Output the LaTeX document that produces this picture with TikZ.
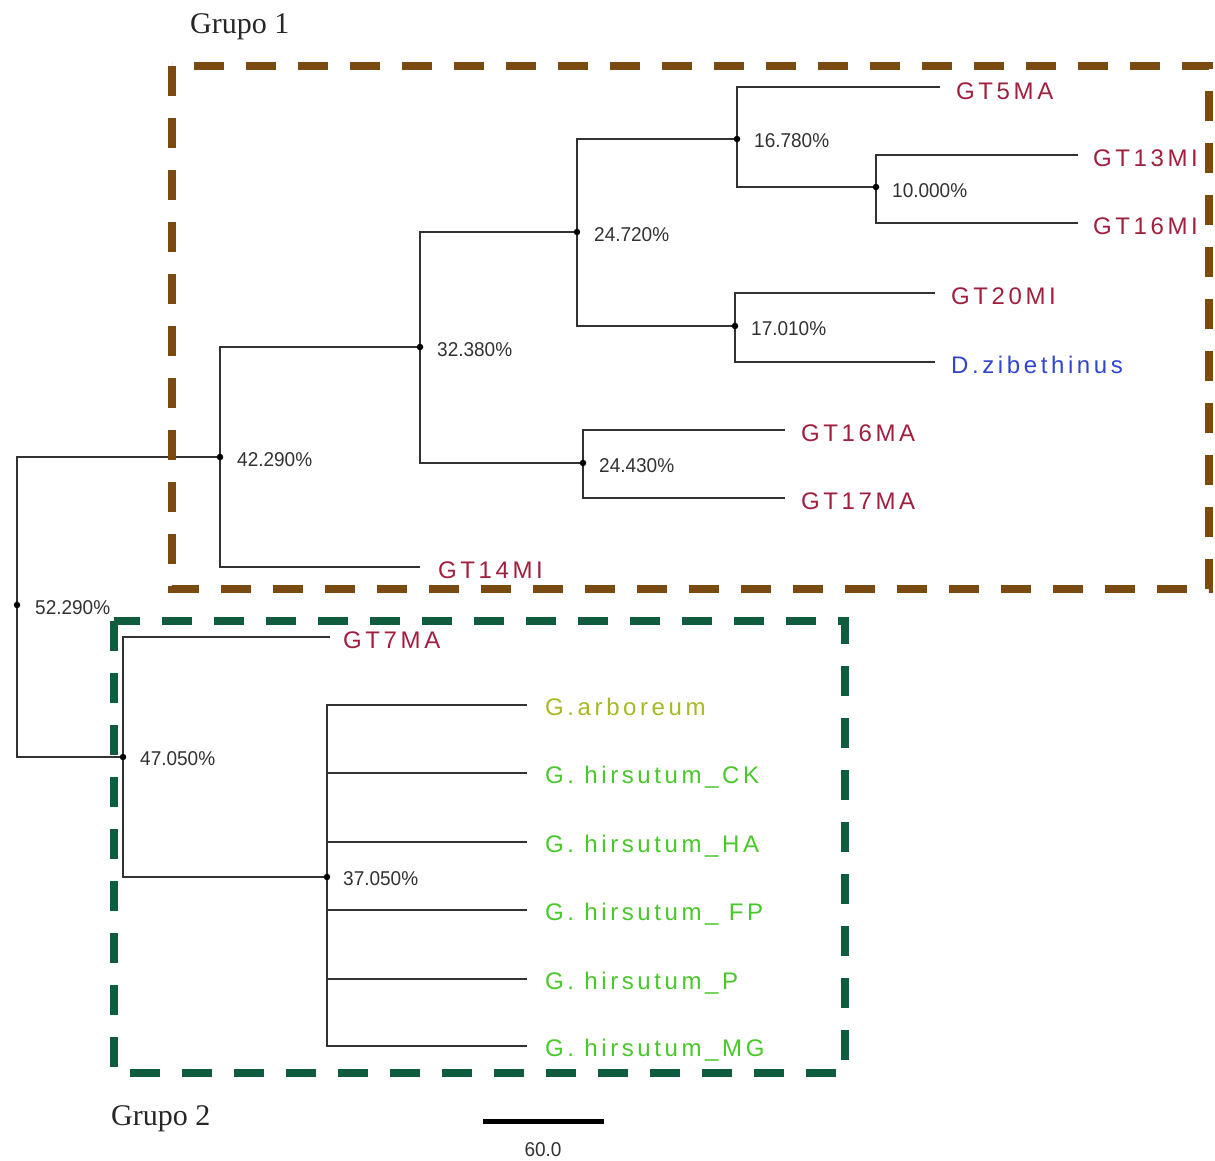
\documentclass[tikz,border=0pt]{standalone}
\usepackage{fontspec}
\setmainfont{Liberation Serif}
\newfontfamily\leaffont[LetterSpace=15]{Liberation Sans}
\newfontfamily\pctfont[FakeStretch=0.95]{Liberation Sans}
\definecolor{brownbox}{RGB}{122,74,16}
\definecolor{greenbox}{RGB}{16,92,62}
\definecolor{gtred}{RGB}{160,30,62}
\definecolor{dzblue}{RGB}{50,70,205}
\definecolor{arbyel}{RGB}{168,184,36}
\definecolor{hirgreen}{RGB}{72,200,42}
\definecolor{treeline}{RGB}{50,50,50}
\begin{document}
\begin{tikzpicture}[x=1pt,y=-1pt,
  branch/.style={draw=treeline,line width=1.6pt},
  dotnode/.style={fill=black,circle,inner sep=0pt,minimum size=6.5pt},
  pct/.style={anchor=base west,inner sep=0pt,font=\pctfont\fontsize{20}{20}\selectfont,text=treeline},
  leaf/.style={anchor=base west,inner sep=0pt,font=\leaffont\fontsize{24}{24}\selectfont},
  grupo/.style={anchor=base west,inner sep=0pt,font=\fontsize{30}{30}\selectfont,text=black!85},
  groupbox/.style={line width=7.5pt,dash pattern=on 30pt off 22pt}
]
\useasboundingbox (0,0) rectangle (1215,1160);
% internal nodes
\coordinate (r) at (17,605);
\coordinate (n42) at (220,457);
\coordinate (n32) at (420,347);
\coordinate (n24a) at (577,232);
\coordinate (n16) at (737,139);
\coordinate (n10) at (876,187);
\coordinate (n17) at (735,326);
\coordinate (n24b) at (583,463);
\coordinate (n47) at (123,757);
\coordinate (n37) at (327,877);
% leaf ends
\coordinate (l5ma) at (940,87);
\coordinate (l13mi) at (1078,155);
\coordinate (l16mi) at (1078,223);
\coordinate (l20mi) at (935,293);
\coordinate (ldz) at (935,362);
\coordinate (l16ma) at (785,430);
\coordinate (l17ma) at (785,498);
\coordinate (l14mi) at (420,567);
\coordinate (l7ma) at (330,637);
\coordinate (lar) at (527,705);
\coordinate (lck) at (527,773);
\coordinate (lha) at (527,842);
\coordinate (lfp) at (527,910);
\coordinate (lp) at (527,979);
\coordinate (lmg) at (527,1046);
% branches
\draw[branch] (r) |- (n42);
\draw[branch] (r) |- (n47);
\draw[branch] (n42) |- (n32);
\draw[branch] (n42) |- (l14mi);
\draw[branch] (n32) |- (n24a);
\draw[branch] (n32) |- (n24b);
\draw[branch] (n24a) |- (n16);
\draw[branch] (n24a) |- (n17);
\draw[branch] (n16) |- (l5ma);
\draw[branch] (n16) |- (n10);
\draw[branch] (n10) |- (l13mi);
\draw[branch] (n10) |- (l16mi);
\draw[branch] (n17) |- (l20mi);
\draw[branch] (n17) |- (ldz);
\draw[branch] (n24b) |- (l16ma);
\draw[branch] (n24b) |- (l17ma);
\draw[branch] (n47) |- (l7ma);
\draw[branch] (n47) |- (n37);
\foreach \t in {lar,lck,lha,lfp,lp,lmg} {\draw[branch] (n37) |- (\t);}
% dots
\foreach \n in {r,n42,n32,n24a,n16,n10,n17,n24b,n47,n37} {\node[dotnode] (d\n) at (\n) {};}
% percentages
\node[pct] (p52) at ([shift={(18,9)}]r) {52.290\%};
\node[pct] (p42) at ([shift={(17,9)}]n42) {42.290\%};
\node[pct] (p32) at ([shift={(17,9)}]n32) {32.380\%};
\node[pct] (p24a) at ([shift={(17,9)}]n24a) {24.720\%};
\node[pct] (p16) at ([shift={(17,8)}]n16) {16.780\%};
\node[pct] (p10) at ([shift={(16,10)}]n10) {10.000\%};
\node[pct] (p17) at ([shift={(16,9)}]n17) {17.010\%};
\node[pct] (p24b) at ([shift={(16,9)}]n24b) {24.430\%};
\node[pct] (p47) at ([shift={(17,8)}]n47) {47.050\%};
\node[pct] (p37) at ([shift={(16,8)}]n37) {37.050\%};
% leaf labels
\node[leaf,text=gtred] (t5ma) at ([shift={(16,12)}]l5ma) {GT5MA};
\node[leaf,text=gtred] (t13mi) at ([shift={(15,11)}]l13mi) {GT13MI};
\node[leaf,text=gtred] (t16mi) at ([shift={(15,11)}]l16mi) {GT16MI};
\node[leaf,text=gtred] (t20mi) at ([shift={(16,11)}]l20mi) {GT20MI};
\node[leaf,text=dzblue] (tdz) at ([shift={(16,11)}]ldz) {D.zibethinus};
\node[leaf,text=gtred] (t16ma) at ([shift={(16,11)}]l16ma) {GT16MA};
\node[leaf,text=gtred] (t17ma) at ([shift={(16,11)}]l17ma) {GT17MA};
\node[leaf,text=gtred] (t14mi) at ([shift={(18,11)}]l14mi) {GT14MI};
\node[leaf,text=gtred] (t7ma) at ([shift={(13,11)}]l7ma) {GT7MA};
\node[leaf,text=arbyel] (tar) at ([shift={(18,10)}]lar) {G.arboreum};
\node[leaf,text=hirgreen] (tck) at ([shift={(18,10)}]lck) {G. hirsutum\_CK};
\node[leaf,text=hirgreen] (tha) at ([shift={(18,10)}]lha) {G. hirsutum\_HA};
\node[leaf,text=hirgreen] (tfp) at ([shift={(18,10)}]lfp) {G. hirsutum\_ FP};
\node[leaf,text=hirgreen] (tp) at ([shift={(18,10)}]lp) {G. hirsutum\_P};
\node[leaf,text=hirgreen] (tmg) at ([shift={(18,10)}]lmg) {G. hirsutum\_MG};
% group boxes
\draw[groupbox,draw=brownbox] (172,66) rectangle (1209,589);
\draw[groupbox,draw=greenbox] (114,621) rectangle (845,1073);
\node[grupo] (g1) at (190,33) {Grupo 1};
\node[grupo] (g2) at (111,1125) {Grupo 2};
% scale bar
\coordinate (sbl) at (483,1121);
\coordinate (sbr) at (604,1121);
\draw[line width=5pt,black] (sbl) -- (sbr);
\node[pct,anchor=center] (sbt) at (543,1150) {60.0};
\end{tikzpicture}
\end{document}
